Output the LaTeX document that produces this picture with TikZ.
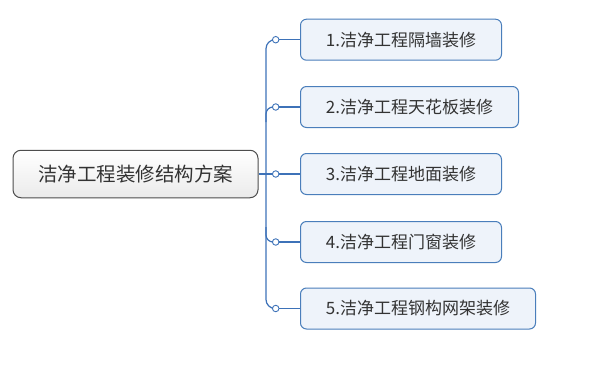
\documentclass[tikz,border=0pt]{standalone}
\usepackage{fontspec}
\newfontfamily\cjk{Noto Sans CJK SC}
\definecolor{lineblue}{HTML}{3D72B8}
\definecolor{boxborder}{HTML}{4A7EBB}
\definecolor{boxfill}{HTML}{EEF3FA}
\definecolor{rootborder}{HTML}{4D4D4D}
\definecolor{txt}{HTML}{333333}
\begin{document}
\begin{tikzpicture}[x=1pt,y=-1pt,
  rootbox/.style={draw=rootborder, line width=1pt, rounded corners=8pt, top color=white, bottom color=black!8,
    minimum width=245pt, minimum height=47.5pt, inner sep=0pt, font=\cjk\fontsize{19.5}{23}\selectfont, text=txt},
  childbox/.style={draw=boxborder, line width=1pt, fill=boxfill, rounded corners=6pt,
    minimum height=41pt, inner sep=0pt, font=\cjk\fontsize{17}{20}\selectfont, text=txt, anchor=west},
  knob/.style={circle, draw=lineblue, fill=white, line width=0.9pt, minimum size=6.5pt, inner sep=0pt},
  conn/.style={draw=lineblue, line width=1.2pt}]
\useasboundingbox (0,0) rectangle (600,367);
\node[rootbox] (root) at (135.5,174) {洁净工程装修结构方案};
\node[childbox, minimum width=201pt] (n1) at (300,39.7) {1.洁净工程隔墙装修};
\node[childbox, minimum width=218pt] (n2) at (300,107) {2.洁净工程天花板装修};
\node[childbox, minimum width=201pt] (n3) at (300,174) {3.洁净工程地面装修};
\node[childbox, minimum width=201pt] (n4) at (300,242) {4.洁净工程门窗装修};
\node[childbox, minimum width=235pt] (n5) at (300,308.5) {5.洁净工程钢构网架装修};
\coordinate (k1) at (275.7,39.7);
\coordinate (k2) at (275.7,107);
\coordinate (k3) at (275.7,174);
\coordinate (k4) at (275.7,242);
\coordinate (k5) at (275.7,308.5);
\coordinate (t1) at (266,39.7);
\coordinate (t2) at (266,107);
\coordinate (t2b) at (266,122);
\coordinate (t4) at (266,242);
\coordinate (t4b) at (266,227);
\coordinate (t5) at (266,308.5);
\draw[conn, rounded corners=9pt] (k1) -- (t1) -- (t5) -- (k5);
\draw[conn, rounded corners=7pt] (k2) -- (t2) -- (t2b);
\draw[conn, rounded corners=7pt] (k4) -- (t4) -- (t4b);
\draw[conn] (root.east) -- (k3);
\foreach \i in {1,...,5} {\draw[conn] (k\i) -- (n\i.west);}
\foreach \i in {1,...,5} {\node[knob] (c\i) at (k\i) {};}
\end{tikzpicture}
\end{document}
